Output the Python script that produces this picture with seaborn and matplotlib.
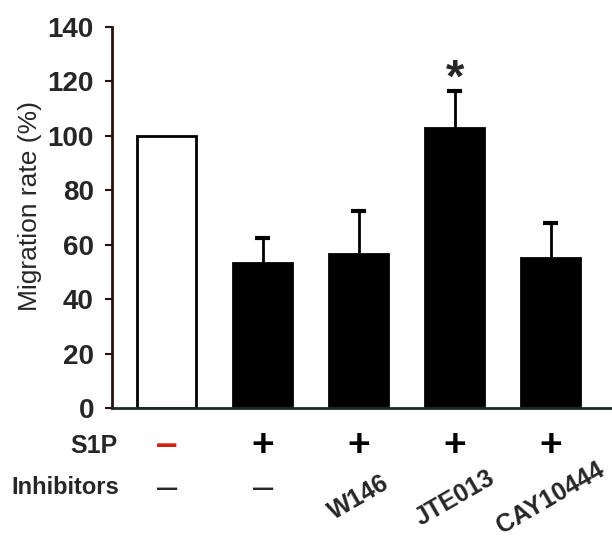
import matplotlib
matplotlib.use("Agg")
import matplotlib.pyplot as plt
import numpy as np
import pandas as pd
import seaborn as sns

# ── data ───────────────────────────────────────────────────────────────
groups = ["Control", "S1P", "S1P+W146", "S1P+JTE013", "S1P+CAY10444"]
migration = [100.0, 53.3, 56.6, 103.0, 55.1]
sem_upper = [0.0, 9.2, 15.8, 13.5, 12.9]
bar_colors = ["white", "black", "black", "black", "black"]
s1p_row = ["\u2013", "+", "+", "+", "+"]
inhib_row = ["\u2013", "\u2013", "W146", "JTE013", "CAY10444"]
yticks = [0, 20, 40, 60, 80, 100, 120, 140]
star_group = 3
star_y = 120.5

sns.set_theme(style="ticks")
plt.rcParams["font.family"] = ["Liberation Sans", "DejaVu Sans"]

df = pd.DataFrame({"group": groups, "rate": migration})

fig = plt.figure(figsize=(6.12, 5.4), dpi=100)
ax = fig.add_axes([0.183, 0.244, 0.817, 0.706])

sns.barplot(data=df, x="group", y="rate", hue="group", palette=bar_colors,
            legend=False, width=0.62, edgecolor="black", linewidth=2,
            ax=ax, zorder=2)

# upper-only error bars (stem + cap), skip groups without sem
xs = np.arange(len(groups))
tops = np.array(migration) + np.array(sem_upper)
has_err = np.array(sem_upper) > 0
ax.vlines(xs[has_err], np.array(migration)[has_err], tops[has_err],
          color="black", linewidth=2, zorder=1)
ax.hlines(tops[has_err], xs[has_err] - 0.075, xs[has_err] + 0.075,
          color="black", linewidth=3, zorder=1)

ax.text(star_group, star_y, "*", ha="center", va="center", fontsize=34,
        fontweight="bold")

ax.set_xlim(-0.57, 4.64)
ax.set_ylim(0, 140)
ax.set_yticks(yticks)
ax.set_yticklabels([str(t) for t in yticks], fontsize=20, fontweight="bold")
ax.set_xticks([])
ax.set_xlabel("")
ax.set_ylabel("Migration rate (%)", fontsize=19)
ax.yaxis.set_label_coords(-0.14, 0.53)
ax.tick_params(axis="y", length=5, width=1.5, pad=8, color="#2a1010")
for side in ["top", "right"]:
    ax.spines[side].set_visible(False)
ax.spines["left"].set_linewidth(2)
ax.spines["left"].set_color("#2a1010")
ax.spines["bottom"].set_linewidth(2)
ax.spines["bottom"].set_color("#1e2a2a")

# ── treatment table below the axis (columns under the bars) ───────────
W, H = 612, 540
row1_y = 1 - 446 / H
row2_y = 1 - 488 / H
fig.text(118 / W, row1_y, "S1P", ha="right", va="center",
         fontsize=18, fontweight="bold")
fig.text(119 / W, row2_y, "Inhibitors", ha="right", va="center",
         fontsize=17, fontweight="bold")
for i, (s, inh) in enumerate(zip(s1p_row, inhib_row)):
    ax.annotate(s, xy=(i, row1_y), xycoords=("data", "figure fraction"),
                ha="center", va="center", fontsize=28, fontweight="bold",
                color="#d02010" if s != "+" else "black",
                annotation_clip=False)
    if inh == "\u2013":
        ax.annotate(inh, xy=(i, row2_y), xycoords=("data", "figure fraction"),
                    ha="center", va="center", fontsize=26,
                    annotation_clip=False)
    else:
        ax.annotate(inh, xy=(i, 1 - 498 / H),
                    xycoords=("data", "figure fraction"),
                    ha="center", va="center", fontsize=18, fontweight="bold",
                    rotation=30, annotation_clip=False)

fig.savefig("out.png", dpi=100)
